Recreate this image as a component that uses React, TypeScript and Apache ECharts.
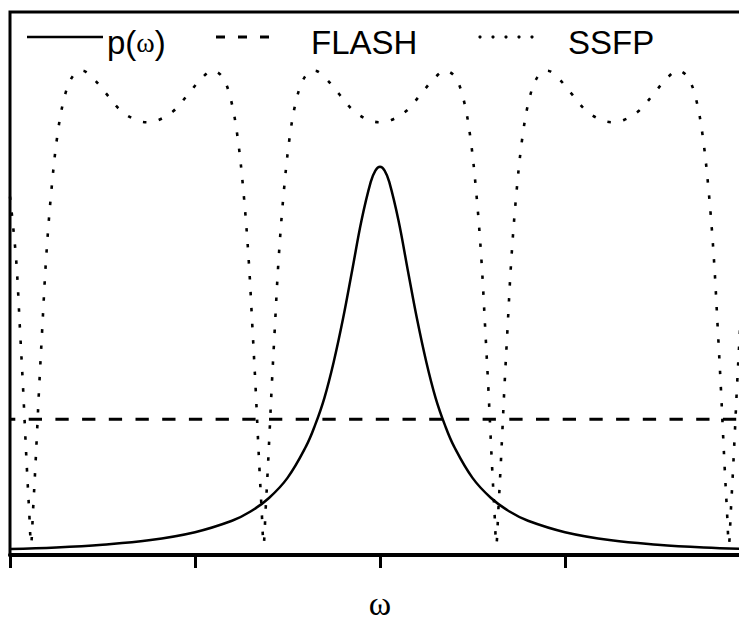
import React, { useEffect, useRef } from "react";
import * as echarts from "echarts";

// x axis ticks (ω, arbitrary units)
const xTicks = [-2, -1, 0, 1, 2];

// p(ω): Lorentzian-like line profile
const pOmega = [
  -2, -1.75, -1.5, -1.25, -1, -0.8, -0.7, -0.6, -0.5, -0.4, -0.35, -0.3, -0.25, -0.2, -0.15, -0.1, -0.05, -0.025, 0,
  0.025, 0.05, 0.1, 0.15, 0.2, 0.25, 0.3, 0.35, 0.4, 0.5, 0.6, 0.7, 0.8, 1, 1.25, 1.5, 1.75, 2,
];
const pValues = [
  0.011, 0.014, 0.019, 0.027, 0.042, 0.063, 0.08, 0.105, 0.142, 0.2, 0.24, 0.29, 0.356, 0.435, 0.525, 0.616, 0.687, 0.708, 0.715,
  0.708, 0.687, 0.616, 0.525, 0.435, 0.356, 0.29, 0.24, 0.2, 0.142, 0.105, 0.08, 0.063, 0.042, 0.027, 0.019, 0.014, 0.011,
];

// FLASH: flat response
const flashOmega = [-2, 2];
const flashValues = [0.25, 0.25];

// SSFP: banded response
const ssfpOmega = [
  -2.0, -1.967, -1.946, -1.929, -1.918, -1.908, -1.897, -1.886,
  -1.875, -1.864, -1.854, -1.843, -1.826, -1.805, -1.778, -1.745, -1.708, -1.664, -1.61, -1.551, -1.481, -1.4, -1.318, -1.257,
  -1.197, -1.115, -1.034, -0.964, -0.905, -0.851, -0.807, -0.77, -0.737, -0.71, -0.689, -0.672, -0.661, -0.651, -0.64, -0.629,
  -0.618, -0.607, -0.597, -0.586, -0.569, -0.548, -0.521, -0.488, -0.451, -0.407, -0.353, -0.294, -0.224, -0.143, -0.061, 0,
  0.061, 0.143, 0.224, 0.294, 0.353, 0.407, 0.451, 0.488, 0.521, 0.548, 0.569, 0.586, 0.597, 0.607, 0.618, 0.629,
  0.64, 0.651, 0.661, 0.672, 0.689, 0.71, 0.737, 0.77, 0.807, 0.851, 0.905, 0.964, 1.034, 1.115, 1.197, 1.257,
  1.318, 1.4, 1.481, 1.551, 1.61, 1.664, 1.708, 1.745, 1.778, 1.805, 1.826, 1.843, 1.854, 1.864, 1.875, 1.886,
  1.897, 1.908, 1.918, 1.929, 1.946, 1.967, 2.0,
];
const ssfpValues = [
  0.66, 0.545, 0.415, 0.305, 0.225, 0.155, 0.085, 0.02,
  0.085, 0.155, 0.225, 0.305, 0.415, 0.545, 0.665, 0.77, 0.84, 0.88, 0.892, 0.878, 0.85, 0.818, 0.801, 0.797,
  0.801, 0.818, 0.85, 0.878, 0.892, 0.88, 0.84, 0.77, 0.665, 0.545, 0.415, 0.305, 0.225, 0.155, 0.085, 0.02,
  0.085, 0.155, 0.225, 0.305, 0.415, 0.545, 0.665, 0.77, 0.84, 0.88, 0.892, 0.878, 0.85, 0.818, 0.801, 0.797,
  0.801, 0.818, 0.85, 0.878, 0.892, 0.88, 0.84, 0.77, 0.665, 0.545, 0.415, 0.305, 0.225, 0.155, 0.085, 0.02,
  0.085, 0.155, 0.225, 0.305, 0.415, 0.545, 0.665, 0.77, 0.84, 0.88, 0.892, 0.878, 0.85, 0.818, 0.801, 0.797,
  0.801, 0.818, 0.85, 0.878, 0.892, 0.88, 0.84, 0.77, 0.665, 0.545, 0.415, 0.305, 0.225, 0.155, 0.085, 0.02,
  0.085, 0.155, 0.225, 0.305, 0.415, 0.545, 0.66,
];

const seriesNames = ["p(ω)", "FLASH", "SSFP"];
const axisName = "ω";

export default function App() {
  const ref = useRef<HTMLDivElement>(null);

  useEffect(() => {
    if (!ref.current) return;
    const chart = echarts.init(ref.current, undefined, { renderer: "svg" });
    const sans = "Liberation Sans, Arial, sans-serif";
    const serif = "Liberation Serif, Times New Roman, serif";
    const legendY = 37;
    const textY = 42;

    chart.setOption({
      animation: false,
      backgroundColor: "#fff",
      grid: {
        left: 10,
        top: 12,
        right: 10,
        bottom: 66,
        show: true,
        borderColor: "#000",
        borderWidth: 3,
        backgroundColor: "transparent",
      },
      xAxis: {
        type: "value",
        min: xTicks[0],
        max: xTicks[xTicks.length - 1],
        interval: 1,
        axisLine: { show: true, onZero: false, lineStyle: { color: "#000", width: 4 } },
        axisTick: { show: true, length: 13, inside: false, lineStyle: { color: "#000", width: 3 } },
        axisLabel: { show: false },
        splitLine: { show: false },
      },
      yAxis: {
        type: "value",
        min: 0,
        max: 1,
        show: false,
        splitLine: { show: false },
      },
      graphic: [
        // legend: solid
        { type: "line", shape: { x1: 27, y1: legendY, x2: 103, y2: legendY }, style: { stroke: "#000", lineWidth: 2.5 } },
        {
          type: "text",
          x: 107,
          y: textY,
          style: {
            text: "{a|p(}{b|ω}{a|)}",
            textVerticalAlign: "middle",
            fill: "#000",
            rich: {
              a: { fontFamily: sans, fontSize: 33, fill: "#000" },
              b: { fontFamily: serif, fontSize: 28, fill: "#000" },
            },
          },
        },
        // legend: dashed
        { type: "line", shape: { x1: 216, y1: legendY, x2: 225, y2: legendY }, style: { stroke: "#000", lineWidth: 3 } },
        { type: "line", shape: { x1: 238, y1: legendY, x2: 247, y2: legendY }, style: { stroke: "#000", lineWidth: 3 } },
        { type: "line", shape: { x1: 260, y1: legendY, x2: 269, y2: legendY }, style: { stroke: "#000", lineWidth: 3 } },
        {
          type: "text",
          x: 311,
          y: textY,
          style: { text: seriesNames[1], font: `33px ${sans}`, fill: "#000", textVerticalAlign: "middle" },
        },
        // legend: dotted
        { type: "circle", shape: { cx: 480, cy: legendY, r: 1.6 }, style: { fill: "#000" } },
        { type: "circle", shape: { cx: 493, cy: legendY, r: 1.6 }, style: { fill: "#000" } },
        { type: "circle", shape: { cx: 506, cy: legendY, r: 1.6 }, style: { fill: "#000" } },
        { type: "circle", shape: { cx: 519, cy: legendY, r: 1.6 }, style: { fill: "#000" } },
        { type: "circle", shape: { cx: 532, cy: legendY, r: 1.6 }, style: { fill: "#000" } },
        {
          type: "text",
          x: 568,
          y: textY,
          style: { text: seriesNames[2], font: `33px ${sans}`, fill: "#000", textVerticalAlign: "middle" },
        },
        // axis name
        {
          type: "text",
          x: 380,
          y: 603,
          style: { text: axisName, font: `34px ${serif}`, fill: "#000", textAlign: "center", textVerticalAlign: "middle" },
        },
      ],
      series: [
        {
          name: seriesNames[0],
          type: "line",
          data: pOmega.map((w, i) => [w, pValues[i]]),
          smooth: 0.4,
          showSymbol: false,
          lineStyle: { color: "#000", width: 2.5, type: "solid" },
          z: 3,
        },
        {
          name: seriesNames[1],
          type: "line",
          data: flashOmega.map((w, i) => [w, flashValues[i]]),
          showSymbol: false,
          lineStyle: { color: "#000", width: 3, type: [13.3, 13.4], dashOffset: 8.4 },
          z: 2,
        },
        {
          name: seriesNames[2],
          type: "line",
          data: ssfpOmega.map((w, i) => [w, ssfpValues[i]]),
          smooth: 0.35,
          showSymbol: false,
          lineStyle: { color: "#000", width: 2.6, type: [3.5, 12.5] },
          z: 2,
        },
      ],
    });

    return () => chart.dispose();
  }, []);

  return (
    <div
      style={{ position: "fixed", left: 0, top: 0, width: 739, height: 621, overflow: "hidden", background: "#fff" }}
    >
      <div ref={ref} style={{ width: 760, height: 621 }} />
    </div>
  );
}
